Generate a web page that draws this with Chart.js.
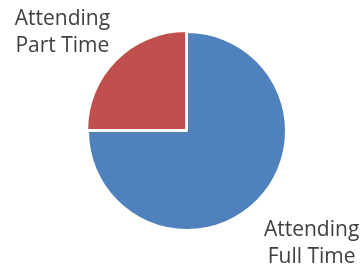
<!DOCTYPE html>
<html lang="en">
<head>
  <meta charset="UTF-8" />
  <title>Attendance</title>
  <script src="https://cdn.jsdelivr.net/npm/chart.js"></script>
  <style>
    body { margin: 0; background: #fff; }
    .wrap { width: 360px; height: 267px; }
  </style>
</head>
<body>
<div class="wrap"><canvas id="pieChart" width="360" height="267"></canvas></div>
<script>
  const categories = ["Attending Full Time", "Attending Part Time"];
  const labelLines = [["Attending", "Full Time"], ["Attending", "Part Time"]];
  const values = [75, 25];
  const colors = ["#4F81BD", "#C0504D"];

  // draws the category names outside the slices
  const outsideLabels = {
    id: 'outsideLabels',
    afterDatasetsDraw(chart) {
      const ctx = chart.ctx;
      const arcs = chart.getDatasetMeta(0).data;
      ctx.save();
      ctx.font = '21px "Open Sans", sans-serif';
      ctx.fillStyle = '#404040';
      ctx.textAlign = 'center';
      ctx.textBaseline = 'alphabetic';
      arcs.forEach((arc, i) => {
        const mid = (arc.startAngle + arc.endAngle) / 2;
        const r = arc.outerRadius;
        const x = arc.x + Math.cos(mid) * r * 1.78;
        const y = arc.y + Math.sin(mid) * r * 1.5 + 13;
        const lines = labelLines[i];
        lines.forEach((t, j) => {
          ctx.fillText(t, x, y + (j - (lines.length - 1) / 2) * 27);
        });
      });
      ctx.restore();
    }
  };

  new Chart(document.getElementById("pieChart"), {
    type: 'pie',
    data: {
      labels: categories,
      datasets: [{
        data: values,
        backgroundColor: colors,
        borderColor: '#ffffff',
        borderWidth: 2,
        offset: [0, 5]
      }]
    },
    options: {
      responsive: false,
      animation: false,
      radius: 99,
      layout: { padding: { top: 32, bottom: 37, left: 88, right: 74 } },
      plugins: {
        legend: { display: false },
        tooltip: { enabled: false }
      }
    },
    plugins: [outsideLabels]
  });
</script>
</body>
</html>
